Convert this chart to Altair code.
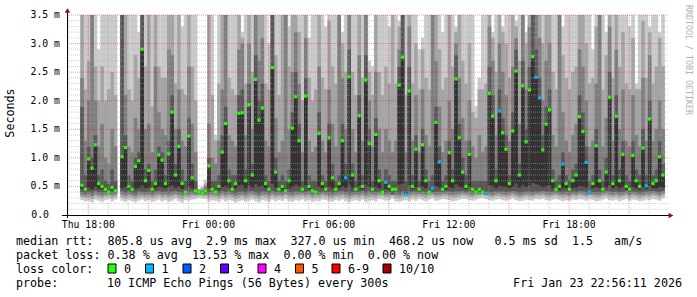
import altair as alt
import pandas as pd

# ---------------- time frame (hours since Thu 00:00) ----------------
X_START = 16 + 56 / 60 + 11 / 3600      # Thu 16:56:11
X_END = X_START + 30                    # Fri 22:56:11
COL_START = 17.6                        # first 10-minute column
COL_STEP = 1 / 6

# ---------------- smoke data: 10 pings per column (ms) ----------------
MED = [0.52,0.45,0.98,0.82,1.23,0.55,0.50,0.45,0.40,0.48,0.42,None,1.02,1.18,0.50,0.45,0.85,0.95,2.90,0.60,0.78,0.45,0.55,1.05,0.96,
       0.55,1.07,1.80,0.70,1.20,0.55,0.40,1.38,0.65,0.42,0.40,0.38,0.42,0.86,0.45,0.40,0.50,1.10,1.60,0.60,0.45,0.55,1.78,1.79,0.60,
       1.93,0.70,2.37,1.66,1.87,0.55,0.45,2.58,0.75,0.45,0.50,0.42,0.60,1.52,2.07,1.30,0.45,2.08,0.50,0.42,0.40,1.43,0.55,0.45,1.35,
       0.65,0.45,0.55,1.30,0.65,2.42,0.70,0.45,1.74,0.50,2.36,1.25,0.45,1.41,0.60,0.40,0.57,0.50,0.45,0.45,2.27,2.76,0.36,2.17,0.50,
       1.15,0.45,1.23,0.60,0.40,0.47,1.62,0.93,0.45,0.50,1.09,0.60,2.38,1.35,0.75,0.50,1.06,0.45,0.40,0.45,0.40,0.38,2.13,1.73,0.60,
       1.82,1.44,1.15,0.55,1.47,2.52,0.70,2.26,1.28,2.19,2.77,2.41,2.05,1.14,1.59,1.84,0.60,0.45,0.50,0.89,0.55,0.45,0.60,0.70,1.72,
       1.46,0.92,0.40,0.55,1.21,0.60,0.45,0.75,2.06,0.55,1.73,0.60,1.06,0.50,0.45,1.04,0.60,0.50,1.17,0.51,1.68,0.55,0.60,1.02,0.70]

P1 = [.26,.24,.25,.22,.27,.25,.23,.26,.28,.24,.27,None,.25,.23,.26,.24,.22,.25,.27,.24,.26,.23,.25,.27,.24,
      .26,.23,.25,.28,.24,.22,.26,.25,.27,.28,.30,.29,.28,.24,.26,.25,.23,.27,.24,.26,.25,.22,.24,.26,.23,
      .25,.27,.24,.22,.26,.25,.23,.27,.24,.26,.25,.28,.24,.23,.26,.25,.27,.24,.26,.23,.25,.24,.27,.26,.24,
      .23,.26,.25,.27,.24,.22,.25,.26,.24,.27,.23,.25,.26,.24,.28,.27,.25,.26,.29,.24,.23,.25,.26,.24,.27,
      .25,.28,.26,.24,.27,.29,.25,.26,.28,.27,.26,.24,.25,.27,.29,.28,.26,.25,.27,.29,.30,.28,.26,.25,.27,
      .28,.26,.25,.27,.29,.26,.24,.25,.27,.26,.25,.28,.27,.29,.26,.25,.27,.28,.26,.24,.26,.25,.27,.26,.28,
      .27,.25,.28,.26,.24,.25,.27,.29,.26,.25,.27,.24,.26,.28,.25,.27,.26,.24,.25,.27,.26,.28,.27,.25,.29]
P2 = [.31,.30,.31,.28,.33,.31,.29,.32,.33,.30,.32,None,.31,.29,.32,.30,.28,.31,.32,.30,.32,.29,.31,.33,.30,
      .32,.29,.31,.34,.30,.28,.32,.31,.33,.33,.34,.33,.33,.30,.32,.31,.29,.33,.30,.32,.31,.28,.30,.32,.29,
      .31,.33,.30,.28,.32,.31,.29,.33,.30,.32,.31,.34,.30,.29,.32,.31,.33,.30,.32,.29,.31,.30,.33,.32,.30,
      .29,.32,.31,.33,.30,.28,.31,.32,.30,.33,.29,.31,.32,.30,.33,.33,.31,.32,.34,.30,.29,.31,.32,.30,.33,
      .31,.33,.32,.30,.33,.34,.31,.32,.33,.33,.32,.30,.31,.33,.34,.33,.32,.31,.33,.34,.35,.33,.32,.31,.33,
      .33,.32,.31,.33,.34,.32,.30,.31,.33,.32,.31,.34,.33,.34,.32,.31,.33,.34,.32,.30,.32,.31,.33,.32,.34,
      .33,.31,.34,.32,.30,.31,.33,.34,.32,.31,.33,.30,.32,.34,.31,.33,.32,.30,.31,.33,.32,.34,.33,.31,.34]
P3 = [.35,.34,.36,.33,.37,.35,.34,.36,.36,.35,.36,None,.36,.34,.36,.35,.33,.36,.36,.35,.36,.34,.36,.37,.35,
      .36,.34,.36,.37,.35,.34,.36,.35,.37,.36,.36,.35,.36,.35,.36,.35,.34,.37,.35,.36,.35,.33,.35,.36,.34,
      .36,.37,.35,.33,.36,.36,.34,.37,.35,.36,.35,.37,.35,.34,.36,.36,.37,.35,.36,.34,.36,.35,.37,.36,.35,
      .34,.36,.36,.37,.35,.33,.35,.36,.35,.37,.34,.36,.36,.35,.37,.37,.35,.36,.35,.35,.34,.36,.36,.35,.37,
      .36,.37,.36,.35,.37,.37,.35,.36,.37,.37,.36,.35,.36,.37,.38,.37,.36,.35,.37,.37,.36,.35,.36,.35,.37,
      .37,.36,.35,.37,.38,.36,.34,.35,.37,.36,.35,.37,.37,.38,.36,.35,.37,.38,.36,.35,.36,.35,.37,.36,.38,
      .37,.35,.36,.36,.35,.35,.37,.38,.36,.35,.37,.35,.36,.38,.35,.37,.36,.35,.35,.37,.36,.38,.37,.35,.38]
P4 = [.40,.38,.41,.38,.42,.40,.39,.40,.38,.40,.39,None,.41,.39,.41,.39,.38,.41,.40,.40,.41,.39,.41,.42,.40,
      .41,.39,.41,.42,.40,.39,.37,.40,.41,.38,.37,.36,.38,.40,.41,.38,.39,.42,.40,.41,.39,.38,.40,.41,.39,
      .41,.42,.40,.38,.41,.41,.39,.42,.40,.40,.40,.39,.40,.39,.41,.41,.40,.40,.41,.38,.37,.40,.41,.40,.40,
      .39,.40,.41,.42,.40,.38,.40,.40,.40,.42,.39,.41,.40,.40,.41,.42,.39,.40,.36,.40,.38,.41,.40,.40,.41,
      .41,.40,.41,.40,.38,.40,.40,.41,.40,.41,.41,.40,.41,.41,.42,.40,.41,.40,.38,.40,.38,.37,.40,.40,.41,
      .41,.41,.40,.41,.42,.41,.39,.40,.41,.41,.40,.41,.41,.42,.41,.40,.41,.42,.40,.39,.41,.40,.41,.40,.42,
      .41,.40,.38,.40,.40,.40,.41,.42,.41,.40,.41,.40,.40,.42,.40,.41,.40,.39,.40,.41,.41,.42,.41,.40,.42]
P5 = [.46,.42,.48,.45,.50,.46,.45,.43,.39,.44,.40,None,.47,.49,.45,.43,.46,.48,.52,.47,.48,.43,.47,.50,.48,
      .47,.49,.52,.48,.50,.46,.38,.50,.47,.40,.38,.37,.40,.47,.43,.39,.45,.49,.51,.47,.43,.47,.52,.53,.47,
      .52,.48,.54,.50,.52,.47,.43,.55,.48,.43,.45,.40,.46,.50,.53,.50,.43,.52,.45,.40,.38,.50,.47,.43,.50,
      .47,.43,.47,.50,.48,.54,.48,.43,.51,.45,.53,.49,.43,.50,.47,.38,.46,.45,.43,.43,.53,.55,.35,.53,.45,
      .49,.43,.50,.47,.39,.44,.51,.48,.43,.45,.49,.47,.54,.50,.48,.45,.49,.43,.38,.43,.39,.37,.52,.51,.47,
      .51,.50,.49,.47,.50,.55,.48,.53,.49,.52,.56,.54,.52,.49,.51,.52,.47,.43,.45,.48,.47,.43,.47,.48,.51,
      .50,.48,.38,.47,.49,.47,.43,.48,.52,.47,.51,.47,.49,.45,.43,.49,.47,.45,.49,.46,.51,.47,.47,.49,.48]
P7 = [1.9,0.7,1.2,1.0,1.4,0.7,0.8,0.6,0.55,0.8,0.6,None,3.6,1.4,0.7,0.6,1.0,1.1,3.6,0.8,0.9,0.6,0.8,1.2,1.1,
      0.7,1.3,2.1,0.9,1.5,0.8,0.6,1.7,0.9,0.6,0.42,0.40,0.45,1.0,0.6,0.6,0.7,1.4,1.9,0.8,0.7,0.7,2.1,2.2,0.8,
      2.3,0.9,2.8,2.0,2.3,0.7,0.6,3.6,1.0,0.6,0.7,0.6,0.8,1.8,2.5,1.6,0.6,2.4,0.7,0.6,0.6,1.8,0.7,0.6,1.6,
      0.9,0.6,0.7,1.6,0.9,2.9,0.9,0.6,2.1,0.7,2.8,1.5,0.6,1.7,0.8,0.6,0.8,0.7,0.6,0.6,2.6,3.6,0.6,2.6,0.7,
      1.4,0.6,1.5,0.8,0.6,0.7,1.9,1.2,0.6,0.7,1.3,0.8,2.8,1.6,1.0,0.7,1.3,0.6,0.6,0.6,0.6,0.6,2.6,2.1,0.8,
      2.2,1.7,1.4,0.7,1.8,2.9,0.9,2.7,1.5,2.6,3.6,2.9,2.4,1.4,1.9,2.2,0.8,0.6,0.7,1.1,0.7,0.6,0.8,0.9,2.1,
      1.8,1.2,0.6,0.7,1.5,0.8,0.6,1.0,2.5,0.7,2.1,0.8,1.3,0.7,0.6,1.3,0.8,0.7,1.5,0.7,2.0,0.7,0.8,1.3,0.9]
P8 = [2.4,1.3,2.0,3.6,2.0,1.2,1.6,1.0,0.9,1.5,1.2,None,3.6,2.1,1.2,1.1,1.7,1.5,3.6,1.5,1.6,1.1,2.6,1.8,1.5,
      1.4,2.9,2.8,1.5,2.2,1.3,1.2,2.6,1.6,1.1,0.44,0.43,0.50,1.6,1.0,0.9,1.3,2.2,3.6,1.4,1.3,1.2,2.9,3.0,1.4,
      3.0,1.5,3.5,2.7,3.1,1.3,1.2,3.6,1.7,1.1,1.3,3.6,1.5,2.5,3.2,2.3,1.1,3.1,1.3,1.1,1.2,2.6,1.3,1.1,2.2,
      1.6,1.2,3.6,2.4,1.5,3.6,1.5,1.1,2.8,1.3,3.6,2.0,1.2,2.5,1.5,1.1,1.5,1.3,1.1,1.3,2.9,3.6,1.1,3.3,1.3,
      2.1,1.1,2.2,1.4,1.2,3.6,2.7,1.9,1.1,1.3,2.0,1.5,3.0,2.4,1.7,1.3,2.0,1.2,1.0,1.4,1.1,1.2,3.3,2.7,1.4,
      3.0,2.5,2.1,1.3,2.6,3.1,1.6,3.6,2.2,3.3,3.6,3.6,3.1,2.0,2.7,3.0,1.4,1.2,3.6,1.8,1.3,1.1,1.4,1.6,2.9,
      2.6,2.0,1.2,1.3,2.3,3.6,1.2,1.7,3.3,1.3,2.9,1.5,2.2,1.3,1.2,2.1,1.4,1.2,2.4,1.3,2.8,1.3,1.5,2.0,1.5]
P9 = [3.6,2.2,2.7,3.6,2.6,2.0,2.6,2.0,2.2,2.5,2.1,None,3.6,3.6,2.2,2.0,2.8,2.4,3.6,2.6,3.6,1.9,3.6,2.6,2.4,
      2.4,3.6,3.6,2.3,3.6,2.2,2.1,3.6,2.6,2.0,0.45,0.47,0.55,3.6,2.1,1.3,2.3,3.6,3.6,2.4,2.2,2.1,3.6,3.1,2.3,
      3.6,2.5,3.6,3.6,3.6,2.3,2.2,3.6,2.8,2.1,3.6,3.6,2.6,3.6,3.6,3.2,2.0,3.6,2.4,2.0,2.2,3.6,2.4,2.2,3.4,
      2.6,2.3,3.6,3.0,2.5,3.6,2.5,2.1,3.6,2.4,3.6,2.5,2.1,3.6,2.5,2.1,2.6,2.3,3.6,2.3,3.3,3.6,2.1,3.6,2.3,
      3.0,2.2,2.9,2.4,2.2,3.6,3.6,2.9,2.2,2.4,3.6,2.6,3.2,3.6,2.7,2.3,3.0,1.8,1.7,2.2,2.2,2.3,3.6,3.1,2.5,
      3.6,3.2,3.0,2.4,3.6,3.3,2.7,3.6,3.0,3.6,3.6,3.6,3.6,3.0,3.6,3.6,2.5,2.2,3.6,2.8,2.4,2.2,2.5,2.6,3.6,
      3.5,3.0,2.3,2.4,3.3,3.6,2.2,2.8,3.6,2.4,3.6,2.6,3.2,2.3,2.2,3.1,2.2,2.2,3.4,2.4,3.2,2.3,2.6,3.1,2.6]
P10 = [3.6,3.6,3.6,3.6,3.6,2.9,3.6,3.6,3.6,3.6,3.6,None,3.6,3.6,3.6,3.6,3.6,3.2,3.6,3.6,3.6,3.6,3.6,3.6,3.6,
       3.6,3.6,3.6,3.6,3.6,3.3,3.6,3.6,3.6,3.6,0.46,0.50,0.62,3.6,3.6,1.4,3.6,3.6,3.6,3.6,3.6,3.6,3.6,3.2,3.6,
       3.6,3.6,3.6,3.6,3.6,3.6,3.0,3.6,3.6,3.6,3.6,3.6,3.3,3.6,3.6,3.6,3.6,3.6,3.1,3.6,3.6,3.6,3.6,3.3,3.6,
       3.6,3.6,3.6,3.2,3.6,3.6,3.6,3.6,3.6,3.6,3.6,2.7,2.6,3.6,3.6,3.6,3.6,3.3,3.6,3.6,3.4,3.6,3.6,3.6,3.6,
       3.6,2.9,3.1,3.6,3.6,3.6,3.6,3.6,3.2,3.6,3.6,3.6,3.3,3.6,3.6,3.6,3.6,3.6,1.9,2.4,3.6,3.6,3.6,3.2,3.6,
       3.6,3.3,3.6,3.6,3.6,3.4,3.6,3.6,3.2,3.6,3.6,3.6,3.6,3.6,3.6,3.6,3.6,3.6,3.6,3.3,3.6,3.6,3.6,3.6,3.6,
       3.6,3.6,3.6,2.9,3.6,3.6,3.6,3.2,3.6,3.6,3.6,3.6,3.6,3.6,3.3,3.6,2.3,3.6,3.6,3.6,3.3,3.6,3.6,3.2,3.6]

# columns whose median is drawn in the "1 lost ping" colour
LOSS1 = [79, 91, 97, 105, 107, 121, 125, 136, 137, 144, 151, 152, 169]

# ---------------- axes / legend text ----------------
XTICK_POS = [18, 24, 30, 36, 42]
XTICK_LABELS = ["Thu 18:00", "Fri 00:00", "Fri 06:00", "Fri 12:00", "Fri 18:00"]
YTICK_POS = [0.0, 0.5, 1.0, 1.5, 2.0, 2.5, 3.0, 3.5]
YTICK_LABELS = ["0.0", "0.5 m", "1.0 m", "1.5 m", "2.0 m", "2.5 m", "3.0 m", "3.5 m"]
LOSS_LABELS = ["0", "1", "2", "3", "4", "5", "6-9", "10/10"]
LOSS_COLORS = ["#26ff00", "#00b8ff", "#0059ff", "#5e00ff", "#ff00ff", "#ff5500", "#ff0000", "#a10000"]
LINE1 = "median rtt:  805.8 us avg  2.9 ms max  327.0 us min  468.2 us now   0.5 ms sd  1.5   am/s"
LINE2 = "packet loss: 0.38 % avg  13.53 % max  0.00 % min  0.00 % now"
LINE3 = "loss color:"
LINE4A = "probe:"
LINE4B = "10 ICMP Echo Pings (56 Bytes) every 300s"
DATE = "Fri Jan 23 22:56:11 2026"

GRAYS = ["#cacaca", "#a4a4a4", "#7e7e7e", "#585858", "#323232"]
MONO = "DejaVu Sans Mono"

# ---------------- build tables ----------------
smoke = []
meds = []
for i, m in enumerate(MED):
    if m is None:
        continue
    pings = sorted([P1[i], P2[i], P3[i], P4[i], P5[i], m, P7[i], P8[i], P9[i], P10[i]])
    t0 = COL_START + i * COL_STEP
    for k in range(5):
        smoke.append({"t": t0, "t2": t0 + COL_STEP * 1.07, "lo": pings[k], "hi": pings[9 - k],
                      "c": GRAYS[k], "k": k})
    meds.append({"t": t0 + COL_STEP / 2, "m": m,
                 "c": LOSS_COLORS[1] if i in LOSS1 else LOSS_COLORS[0]})
smoke = pd.DataFrame(smoke)
meds = pd.DataFrame(meds)

xs = alt.Scale(domain=[X_START, X_END], nice=False, zero=False)
ys = alt.Scale(domain=[0, 3.5], nice=False, zero=False)

layers = []
for k in range(5):
    layers.append(
        alt.Chart(smoke[smoke.k == k]).mark_rect(clip=True, strokeWidth=0).encode(
            x=alt.X("t:Q", scale=xs, axis=None), x2="t2:Q",
            y=alt.Y("lo:Q", scale=ys, axis=None), y2="hi:Q",
            color=alt.Color("c:N", scale=None)))

# grid (drawn over the smoke like rrdtool)
y_minor = [round(v * 0.1, 1) for v in range(1, 35) if v % 5]
y_major = [0.5, 1.0, 1.5, 2.0, 2.5, 3.0, 3.5]
x_minor = [h for h in range(17, 47) if h % 3]
x_major = [h for h in range(18, 47, 3)]
layers.append(alt.Chart(pd.DataFrame({"v": y_minor})).mark_rule(
    color="#ababab", opacity=0.55, strokeDash=[1, 1], strokeWidth=1).encode(
    y=alt.Y("v:Q", scale=ys, axis=None)))
layers.append(alt.Chart(pd.DataFrame({"h": x_minor})).mark_rule(
    color="#ababab", opacity=0.55, strokeDash=[1, 1], strokeWidth=1).encode(
    x=alt.X("h:Q", scale=xs, axis=None)))
layers.append(alt.Chart(pd.DataFrame({"v": y_major})).mark_rule(
    color="#ff0000", opacity=0.4, strokeDash=[1, 1], strokeWidth=1).encode(
    y=alt.Y("v:Q", scale=ys, axis=None)))
layers.append(alt.Chart(pd.DataFrame({"h": x_major})).mark_rule(
    color="#ff0000", opacity=0.4, strokeDash=[1, 1], strokeWidth=1).encode(
    x=alt.X("h:Q", scale=xs, axis=None)))

# median
layers.append(alt.Chart(meds).mark_square(size=10, opacity=1, filled=True).encode(
    x=alt.X("t:Q", scale=xs, axis=None), y=alt.Y("m:Q", scale=ys, axis=None),
    color=alt.Color("c:N", scale=None)))

# axis lines and arrows (pixel space)
axes = pd.DataFrame([
    {"px": -5, "px2": 603, "py": 200.5, "py2": 200.5},
    {"px": 0.5, "px2": 0.5, "py": -4, "py2": 203},
])
layers.append(alt.Chart(axes).mark_rule(color="black", strokeWidth=1).encode(
    x=alt.X("px:Q", scale=None), x2="px2:Q", y=alt.Y("py:Q", scale=None), y2="py2:Q"))
arrows = pd.DataFrame([
    {"px": 604, "py": 200.5, "s": "triangle-right"},
    {"px": 0.5, "py": -4.5, "s": "triangle-up"},
])
layers.append(alt.Chart(arrows).mark_point(filled=True, size=30, opacity=1, color="#8b1010").encode(
    x=alt.X("px:Q", scale=None), y=alt.Y("py:Q", scale=None),
    shape=alt.Shape("s:N", scale=None)))

# tick labels
layers.append(alt.Chart(pd.DataFrame({"h": XTICK_POS, "lab": XTICK_LABELS})).mark_text(
    font=MONO, fontSize=9.8, align="center", baseline="middle", color="black").encode(
    x=alt.X("h:Q", scale=xs, axis=None), y=alt.value(210), text="lab:N"))
ylab = pd.DataFrame({"v": YTICK_POS, "lab": YTICK_LABELS,
                     "px": [-18 if v == 0 else -7 for v in YTICK_POS]})
layers.append(alt.Chart(ylab).mark_text(
    font=MONO, fontSize=9.8, align="right", baseline="middle", color="black").encode(
    x=alt.X("px:Q", scale=None), y=alt.Y("v:Q", scale=ys, axis=None), text="lab:N"))

# legend text
nb = lambda s: s.replace(" ", "\u00a0")
texts = pd.DataFrame([
    {"px": -51, "py": 226, "txt": nb(LINE1)},
    {"px": -51, "py": 240, "txt": nb(LINE2)},
    {"px": -51, "py": 253.5, "txt": nb(LINE3)},
    {"px": -51, "py": 268, "txt": nb(LINE4A)},
    {"px": 40, "py": 268, "txt": nb(LINE4B)},
])
layers.append(alt.Chart(texts).mark_text(
    font=MONO, fontSize=11.7, align="left", baseline="middle", color="black").encode(
    x=alt.X("px:Q", scale=None), y=alt.Y("py:Q", scale=None), text="txt:N"))
layers.append(alt.Chart(pd.DataFrame({"txt": [DATE]})).mark_text(
    font=MONO, fontSize=11.7, align="right", baseline="middle", color="black").encode(
    x=alt.value(615), y=alt.value(268), text="txt:N"))

box_left = [41, 78.5, 116, 153.5, 191, 228.5, 265, 316]
boxes = pd.DataFrame({"px": box_left, "px2": [b + 8 for b in box_left],
                      "py": [249] * 8, "py2": [258] * 8, "c": LOSS_COLORS,
                      "lab": LOSS_LABELS, "tx": [b + 16 for b in box_left]})
layers.append(alt.Chart(boxes).mark_rect(stroke="black", strokeWidth=1).encode(
    x=alt.X("px:Q", scale=None), x2="px2:Q", y=alt.Y("py:Q", scale=None), y2="py2:Q",
    color=alt.Color("c:N", scale=None)))
layers.append(alt.Chart(boxes).mark_text(
    font=MONO, fontSize=11.7, align="left", baseline="middle", color="black").encode(
    x=alt.X("tx:Q", scale=None), y=alt.value(253.5), text="lab:N"))

# vertical texts
layers.append(alt.Chart(pd.DataFrame({"txt": ["Seconds"]})).mark_text(
    font=MONO, fontSize=11.7, angle=270, align="center", baseline="middle", color="black").encode(
    x=alt.value(-57), y=alt.value(98), text="txt:N"))
layers.append(alt.Chart(pd.DataFrame({"txt": ["RRDTOOL / TOBI OETIKER"]})).mark_text(
    font=MONO, fontSize=8.3, angle=90, align="center", baseline="middle", color="#b0b0b0").encode(
    x=alt.value(621), y=alt.value(45), text="txt:N"))

chart = alt.layer(*layers).properties(
    width=601, height=200,
    padding={"left": 67, "top": 15, "right": 29, "bottom": 82},
    autosize=alt.AutoSizeParams(type="none"),
    background="white",
).configure_view(strokeWidth=0)

chart.save("out.html", embed_options={"renderer": "svg", "actions": False})
